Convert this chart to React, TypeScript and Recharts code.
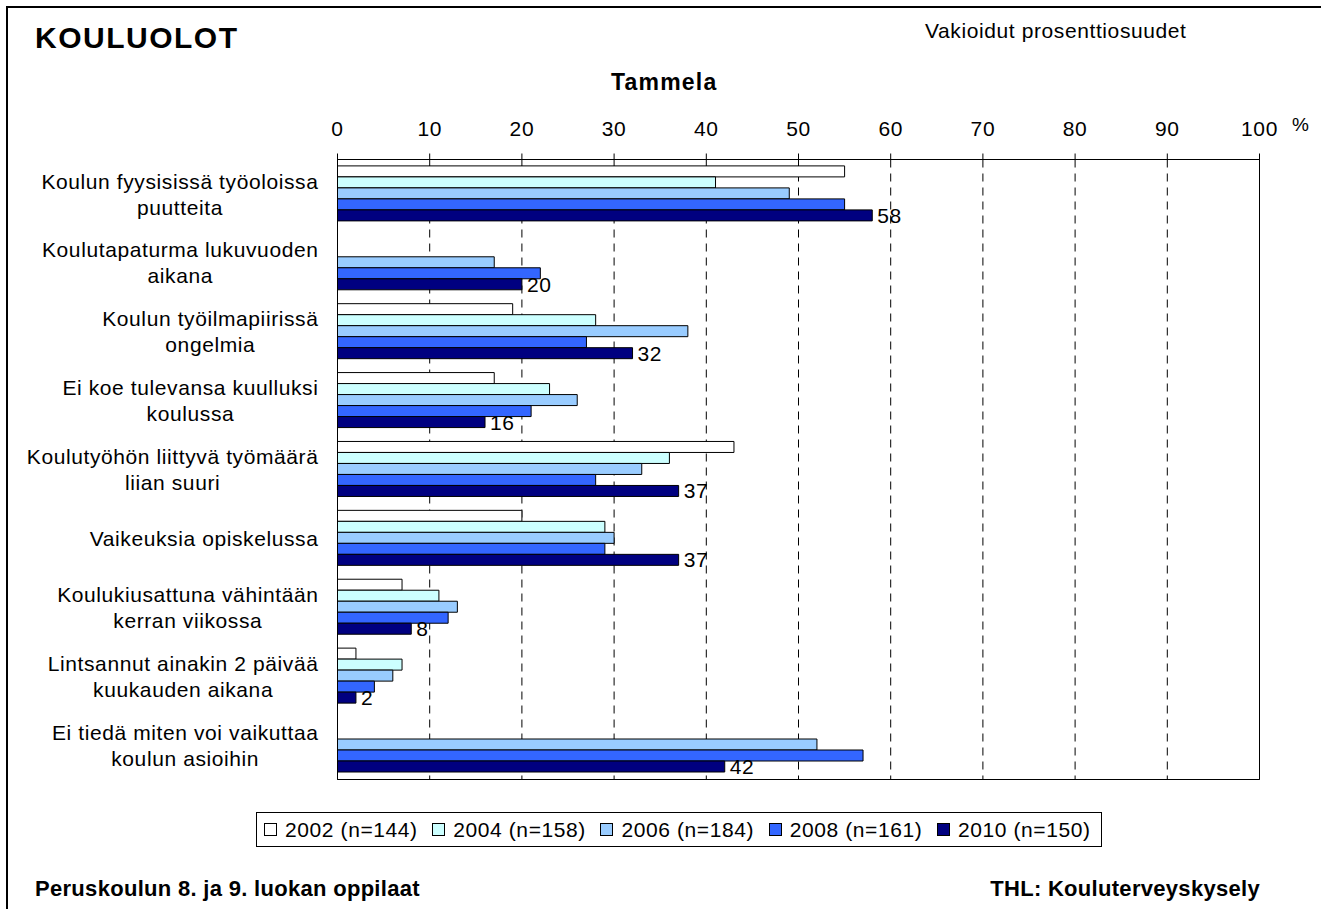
import {
  Bar,
  BarChart,
  CartesianGrid,
  LabelList,
  Legend,
  ReferenceArea,
  XAxis,
  YAxis,
} from "recharts";

const categories = [
  "Koulun fyysisissä työoloissa\npuutteita",
  "Koulutapaturma lukuvuoden\naikana",
  "Koulun työilmapiirissä\nongelmia",
  "Ei koe tulevansa kuulluksi\nkoulussa",
  "Koulutyöhön liittyvä työmäärä\nliian suuri",
  "Vaikeuksia opiskelussa",
  "Koulukiusattuna vähintään\nkerran viikossa",
  "Lintsannut ainakin 2 päivää\nkuukauden aikana",
  "Ei tiedä miten voi vaikuttaa\nkoulun asioihin",
];

const v2002 = [55, null, 19, 17, 43, 20, 7, 2, null];
const v2004 = [41, null, 28, 23, 36, 29, 11, 7, null];
const v2006 = [49, 17, 38, 26, 33, 30, 13, 6, 52];
const v2008 = [55, 22, 27, 21, 28, 29, 12, 4, 57];
const v2010 = [58, 20, 32, 16, 37, 37, 8, 2, 42];

const seriesKeys = ["y2002", "y2004", "y2006", "y2008", "y2010"];
const seriesNames = [
  "2002 (n=144)",
  "2004 (n=158)",
  "2006 (n=184)",
  "2008 (n=161)",
  "2010 (n=150)",
];
const seriesColors = ["#FFFFFF", "#CCFFFF", "#99CCFF", "#3366FF", "#000080"];

const xTicks = [0, 10, 20, 30, 40, 50, 60, 70, 80, 90, 100];

const data = categories.map((name, i) => ({
  name,
  y2002: v2002[i],
  y2004: v2004[i],
  y2006: v2006[i],
  y2008: v2008[i],
  y2010: v2010[i],
}));

const FONT = "'Liberation Sans', Arial, Helvetica, sans-serif";
const FS = 21;
const LS = 0.6;

let ctx: CanvasRenderingContext2D | null = null;
function textWidth(s: string) {
  if (!ctx) {
    ctx = document.createElement("canvas").getContext("2d");
  }
  if (!ctx) return s.length * FS * 0.5;
  ctx.font = `${FS}px "Liberation Sans", Arial`;
  return ctx.measureText(s).width + s.length * LS;
}

// multi-line category label, lines centred inside a right-aligned block
function CategoryTick({ x, y, payload }: any) {
  const lines = String(payload.value).split("\n");
  const maxW = Math.max(...lines.map(textWidth));
  const cx = x - maxW / 2;
  const lineH = 26;
  const first = y - ((lines.length - 1) * lineH) / 2 + 7.6;
  return (
    <text
      textAnchor="middle"
      fill="#000"
      fontSize={FS}
      fontFamily={FONT}
      letterSpacing={LS}
    >
      {lines.map((l, i) => (
        <tspan key={i} x={cx} y={first + i * lineH}>
          {l}
        </tspan>
      ))}
    </text>
  );
}

function LegendBox() {
  return (
    <div
      style={{
        boxSizing: "border-box",
        width: "100%",
        height: "100%",
        border: "1px solid #000",
        background: "#fff",
        display: "flex",
        alignItems: "center",
        paddingLeft: 7,
        gap: 14.5,
        fontFamily: FONT,
        fontSize: FS,
        letterSpacing: LS,
        color: "#000",
        whiteSpace: "nowrap",
      }}
    >
      {seriesNames.map((n, i) => (
        <div key={n} style={{ display: "flex", alignItems: "center" }}>
          <span
            style={{
              display: "inline-block",
              width: 11,
              height: 11,
              border: "1px solid #000",
              background: seriesColors[i],
              marginRight: 8,
            }}
          />
          <span style={{ lineHeight: 1 }}>{n}</span>
        </div>
      ))}
    </div>
  );
}

const abs = (left: number, top: number, extra: any = {}) => ({
  position: "absolute" as const,
  left,
  top,
  lineHeight: 1,
  whiteSpace: "nowrap" as const,
  color: "#000",
  fontFamily: FONT,
  ...extra,
});

export default function App() {
  return (
    <div
      style={{
        position: "absolute",
        left: 0,
        top: 0,
        width: 1321,
        height: 909,
        overflow: "hidden",
        background: "#fff",
        fontFamily: FONT,
      }}
    >
      <div
        style={{
          position: "absolute",
          left: 6,
          top: 6,
          width: 1400,
          height: 1000,
          borderLeft: "2.5px solid #000",
          borderTop: "2.5px solid #000",
        }}
      />
      <div style={{ position: "absolute", left: 0, top: 0 }}>
        <BarChart
          width={1321}
          height={909}
          data={data}
          layout="vertical"
          margin={{ top: 119.5, right: 61.5, bottom: 129.5, left: 17.5 }}
          barCategoryGap={6.4}
          barGap={0}
        >
          <CartesianGrid
            horizontal={false}
            stroke="#000"
            strokeDasharray="8 6"
          />
          <XAxis
            type="number"
            orientation="top"
            domain={[0, 100]}
            ticks={xTicks}
            interval={0}
            height={40}
            tickSize={6}
            tickMargin={18}
            axisLine={{ stroke: "#000" }}
            tickLine={{ stroke: "#000" }}
            tick={{
              fill: "#000",
              fontSize: FS,
              fontFamily: FONT,
              letterSpacing: LS,
            }}
          />
          <YAxis
            type="category"
            dataKey="name"
            width={320}
            interval={0}
            tickLine={false}
            tickSize={0}
            tickMargin={19}
            axisLine={{ stroke: "#000" }}
            tick={<CategoryTick />}
          />
          <ReferenceArea
            x1={0}
            x2={100}
            fill="none"
            stroke="#000"
            strokeWidth={1}
            ifOverflow="visible"
          />
          {seriesKeys.map((k, i) => (
            <Bar
              key={k}
              dataKey={k}
              name={seriesNames[i]}
              fill={seriesColors[i]}
              stroke="#000"
              strokeWidth={1}
              isAnimationActive={false}
            >
              {k === "y2010" && (
                <LabelList
                  dataKey={k}
                  position="right"
                  offset={5}
                  fill="#000"
                  fontSize={FS}
                  fontFamily={FONT}
                  letterSpacing={LS}
                />
              )}
            </Bar>
          ))}
          <Legend
            layout="horizontal"
            verticalAlign="middle"
            align="center"
            wrapperStyle={{ left: 256, top: 812, width: 846, height: 35 }}
            content={() => <LegendBox />}
          />
        </BarChart>
      </div>
      <div style={abs(35, 23, { fontSize: 30, fontWeight: "bold", letterSpacing: 1.5 })}>
        KOULUOLOT
      </div>
      <div style={abs(925, 19.5, { fontSize: FS, letterSpacing: LS })}>
        Vakioidut prosenttiosuudet
      </div>
      <div style={abs(611, 70.5, { fontSize: 23, fontWeight: "bold", letterSpacing: 1.2 })}>
        Tammela
      </div>
      <div style={abs(1292, 115.4, { fontSize: 19 })}>%</div>
      <div style={abs(35, 878.4, { fontSize: 22, fontWeight: "bold", letterSpacing: 0.3 })}>
        Peruskoulun 8. ja 9. luokan oppilaat
      </div>
      <div
        style={{
          ...abs(0, 878.4, { fontSize: 22, fontWeight: "bold", letterSpacing: 0.3 }),
          left: undefined,
          right: 61,
        }}
      >
        THL: Kouluterveyskysely
      </div>
    </div>
  );
}
